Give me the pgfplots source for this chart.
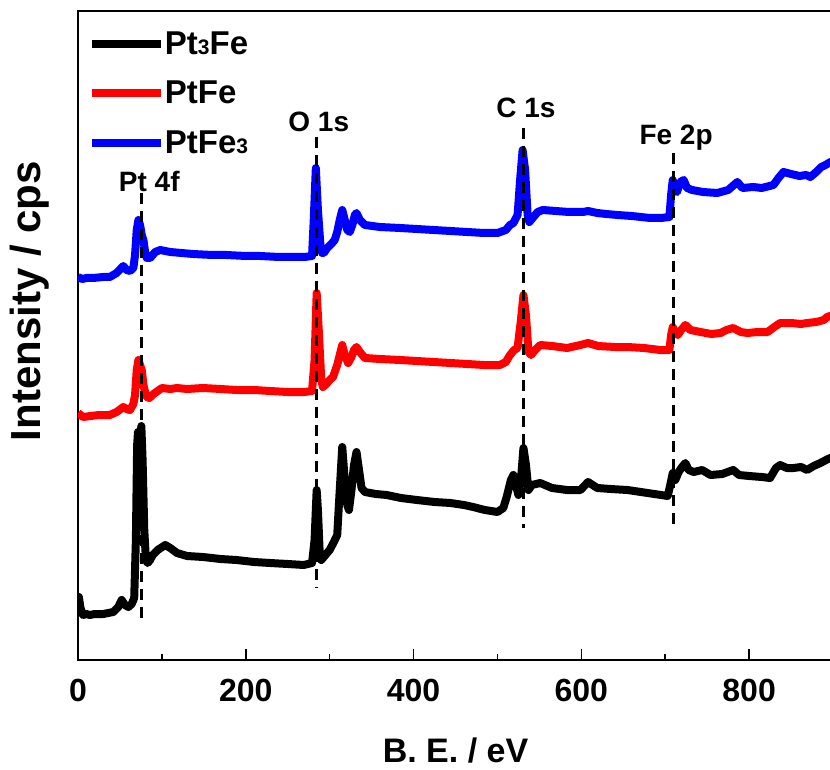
\documentclass[border=0pt]{standalone}
\usepackage{pgfplots}
\pgfplotsset{compat=1.18}
\usepackage{fontspec}
\setmainfont{Liberation Sans}
\usetikzlibrary{calc}

% survey spectra, y in pixel-like units (offset stacked)
\pgfplotstableread{
x y
0 62
1 63
3 52
6 45
10 46
14 45
20 46
30 46
42 48
48 53
52 60
56 55
60 53
64 56
67 62
69 120
70.5 215
71.5 228
73 200
74 220
75.5 234
77 200
79 130
81 100
83 97
86 100
89 105
95 110
104 115
110 112
118 107
130 104
149 103
170 101
189 100
210 98
229 97
250 96
269 95
279 97
282 120
284.5 170
286 150
288 110
290 100
295 105
300 110
305 118
309 125
312 170
315 213
318 180
321 155
323 150
326 170
329 195
332 208
335 190
338 172
342 168
355 166
368 165
385 162
404 160
425 158
444 157
460 155
471 153
485 150
500 148
507 152
511 163
516 180
519 185
522 175
525 165
528 180
531 212
534 195
537 170
541 175
551 177
565 172
583 170
599 170
608 178
619 172
635 171
655 170
679 167
695 165
703 164
706 175
709 187
712 180
716 188
720 193
724 197
728 190
734 188
744 190
754 185
768 186
781 190
788 185
800 184
815 183
825 182
832 192
837 195
845 192
853 192
862 193
869 190
877 194
885 197
894 201
900 203
}\ptthreefe

\pgfplotstableread{
x y
0 247
3 245
6 243
15 244
25 245
38 245
46 248
54 253
58 251
62 250
66 256
68 265
70 290
72 300
74 295
76 290
78 275
80 268
82 263
85 262
90 266
100 272
110 271
118 272
130 271
149 272
170 271
189 270
210 270
229 269
250 268
270 268
279 269
282 300
284.5 367
287 330
290 280
292 273
296 276
300 280
304 283
309 295
312 305
315 315
318 305
322 297
326 303
329 310
332 313
336 308
342 302
360 301
384 300
404 299
424 298
444 297
464 296
484 295
503 295
510 298
515 305
520 310
524 312
528 340
531 365
534 345
537 308
540 305
545 310
551 315
565 314
583 312
599 315
608 317
620 314
640 313
655 313
675 312
694 310
705 310
707 325
709 333
712 327
715 325
719 330
724 335
730 330
742 328
755 326
766 327
773 330
781 332
790 328
798 327
810 328
822 328
830 333
837 337
850 337
862 336
869 337
880 338
889 340
893 343
900 345
}\ptfe

\pgfplotstableread{
x y
0 383
5 381
10 382
18 382
30 383
38 383
46 387
54 394
58 390
62 389
66 392
68 405
70 430
72 440
74 435
76 425
78 420
80 408
82 402
86 402
92 408
98 410
110 408
137 406
160 405
177 405
200 404
217 404
240 403
256 403
270 403
279 404
281 440
283.5 492
286 450
289 415
291 407
293 407
297 412
302 416
306 420
309 428
312 440
315 450
318 440
321 430
324 428
327 435
330 445
332 447
336 440
342 435
360 433
384 432
404 431
424 430
444 429
464 428
484 427
500 427
510 430
515 435
519 437
524 445
527 480
530 510
533 490
536 445
538 438
542 442
548 448
554 450
570 449
585 448
602 448
608 449
619 447
630 446
643 445
660 444
682 442
695 442
705 443
707 465
709 480
711 470
714 468
718 478
722 480
726 472
732 470
745 468
762 467
775 470
786 478
792 472
805 473
815 472
829 475
835 482
841 488
850 486
860 484
868 485
873 483
880 488
886 493
891 495
897 498
900 499
}\ptfethree

\begin{document}
\begin{tikzpicture}
\begin{axis}[
  name=ax,
  scale only axis, width=755pt, height=649pt,
  xmin=0, xmax=900, ymin=0, ymax=649,
  axis line style={line width=1.6pt},
  xtick={0,200,400,600,800}, minor x tick num=1,
  ytick=\empty, xtick pos=bottom, tick align=inside,
  major tick length=11pt, minor tick length=6pt,
  tick style={line width=1.6pt, black},
  /pgf/number format/assume math mode=true,
  xticklabel style={font=\bfseries\fontsize{32}{32}\selectfont, inner sep=0pt, yshift=-19pt},
  xlabel={B. E. / eV}, ylabel={Intensity / cps},
  xlabel style={font=\bfseries\fontsize{34}{34}\selectfont,
    at={(axis description cs:0.5,0)}, anchor=north, inner sep=0pt, yshift=-78pt},
  ylabel style={font=\bfseries\fontsize{42}{42}\selectfont,
    at={(axis description cs:-0.0636,0.553)}, anchor=center, inner sep=0pt},
  legend style={at={(axis description cs:0.0132,0.9676)}, anchor=north west,
    draw=none, fill=none, inner sep=0pt, outer sep=0pt,
    font=\bfseries\fontsize{33}{33}\selectfont, row sep=25pt,
    nodes={inner sep=0pt}},
  legend cell align=left,
  legend image code/.code={\draw[#1, line width=8pt] (0pt,0pt) -- (69pt,0pt);},
]
\addplot[black, line width=8pt, line join=round] table[x=x,y=y] {\ptthreefe};
\addlegendentry{Pt{\fontsize{21}{21}\selectfont 3}Fe}
\addplot[red, line width=8pt, line join=round] table[x=x,y=y] {\ptfe};
\addlegendentry{PtFe}
\addplot[blue, line width=8pt, line join=round] table[x=x,y=y] {\ptfethree};
\addlegendentry{PtFe{\fontsize{21}{21}\selectfont 3}}

\addplot[black, line width=3.2pt, dash pattern=on 11pt off 7pt, forget plot] coordinates {(76,467) (76,40)};
\addplot[black, line width=3.2pt, dash pattern=on 11pt off 7pt, forget plot] coordinates {(284,523) (284,72)};
\addplot[black, line width=3.2pt, dash pattern=on 11pt off 7pt, forget plot] coordinates {(531,532) (531,132)};
\addplot[black, line width=3.2pt, dash pattern=on 11pt off 7pt, forget plot] coordinates {(710,507) (710,130)};

\node[font=\bfseries\fontsize{28}{28}\selectfont] at (axis cs:85,479) {Pt 4f};
\node[font=\bfseries\fontsize{28}{28}\selectfont] at (axis cs:287,538) {O 1s};
\node[font=\bfseries\fontsize{28}{28}\selectfont] at (axis cs:534,552) {C 1s};
\node[font=\bfseries\fontsize{28}{28}\selectfont] at (axis cs:713,522) {Fe 2p};
\end{axis}
\pgfresetboundingbox
\path[use as bounding box] ($(ax.south west)+(-78pt,-109pt)$) rectangle ($(ax.south west)+(752pt,660pt)$);
\end{tikzpicture}
\end{document}
